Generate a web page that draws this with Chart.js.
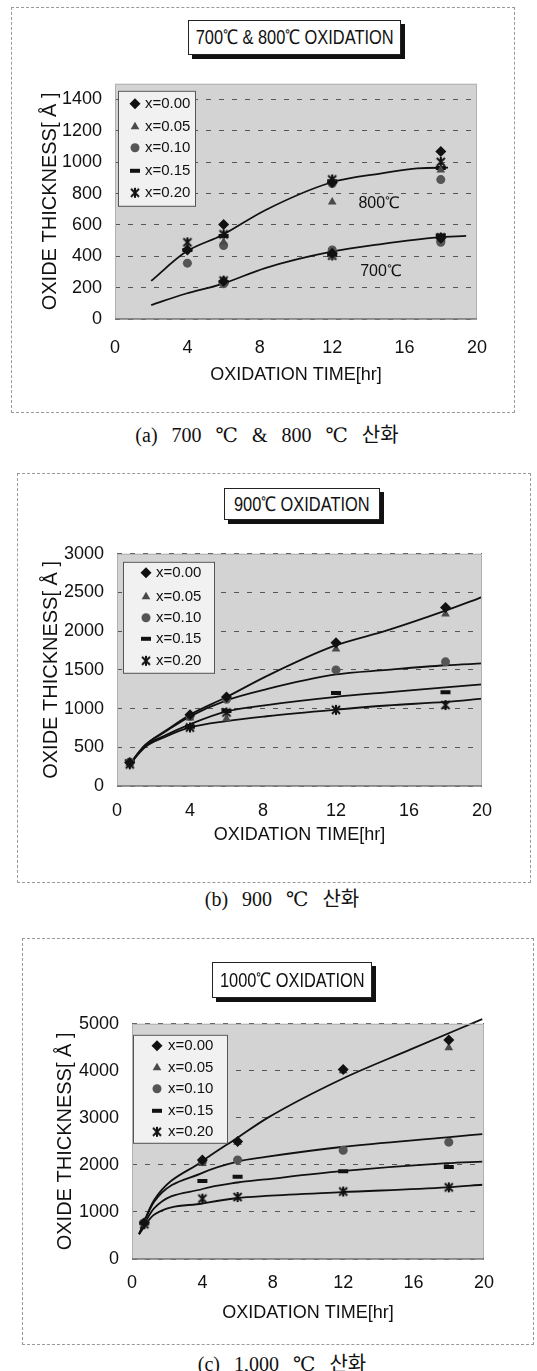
<!DOCTYPE html>
<html lang="ko">
<head>
<meta charset="utf-8">
<title>Oxide thickness vs oxidation time</title>
<script src="https://cdn.jsdelivr.net/npm/chart.js@4.4.1/dist/chart.umd.min.js"></script>
<style>
  html, body { margin: 0; padding: 0; background: #fff; }
  body { position: relative; width: 537px; height: 1371px; overflow: hidden; }
  .frame { position: absolute; border: 1px dashed #9a9a9a; box-sizing: border-box; }
  canvas { position: absolute; left: 0; z-index: 1; }
  .ttl {
    position: absolute; z-index: 2; background: #fff; border: 1px solid #222;
    box-shadow: 4px 4px 0 #111; box-sizing: border-box; color: #111;
    display: flex; align-items: center; justify-content: center; white-space: nowrap;
  }
  .ttl span {
    display: inline-block; font: 20px 'Liberation Sans', Arial, sans-serif;
    transform: scaleX(0.82); transform-origin: center;
  }
  .cap {
    position: absolute; width: 400px; text-align: center; color: #111; line-height: 24px;
    font: 20px 'Liberation Serif', 'DejaVu Serif', 'Noto Sans CJK KR', serif; word-spacing: 9px;
    white-space: nowrap;
  }
</style>
</head>
<body>
<div class="frame" style="left:11px;top:7px;width:504px;height:406px"></div>
<div class="frame" style="left:17px;top:473px;width:514px;height:410px"></div>
<div class="frame" style="left:22px;top:938px;width:512px;height:407px"></div>

<div class="ttl" style="left:188px;top:20px;width:213px;height:35px"><span>700℃ &amp; 800℃ OXIDATION</span></div>
<div class="ttl" style="left:224px;top:488px;width:156px;height:32px"><span>900℃ OXIDATION</span></div>
<div class="ttl" style="left:212px;top:962px;width:160px;height:36px"><span>1000℃ OXIDATION</span></div>

<canvas id="chartA" width="537" height="340" style="top:60px"></canvas>
<canvas id="chartB" width="537" height="330" style="top:530px"></canvas>
<canvas id="chartC" width="537" height="330" style="top:1000px"></canvas>

<div class="cap" style="left:67px;top:419px">(a) 700 ℃ &amp; 800 ℃ 산화</div>
<div class="cap" style="left:82px;top:883px">(b) 900 ℃ 산화</div>
<div class="cap" style="left:82px;top:1348px">(c) 1,000 ℃ 산화</div>

<script>
const seriesLabels = ['x=0.00', 'x=0.05', 'x=0.10', 'x=0.15', 'x=0.20'];
const xTicks = [0, 4, 8, 12, 16, 20];

// (a) 700 / 800 C
const yTicksA = [0, 200, 400, 600, 800, 1000, 1200, 1400];
const hoursA = [4, 6, 12, 18];
const a800 = [
    [440, 602, 871, 1068],
    [448, 489, 746, 951],
    [356, 469, 864, 889],
    [440, 530, 879, 963],
    [489, 540, 890, 1002]
];
const a700 = [
    [null, 240, 420, 515],
    [null, 230, 395, 510],
    [null, 225, 440, 489],
    [null, 235, 410, 532],
    [null, 245, 405, 520]
];
const fitHoursA800 = [2, 3.9, 5.9, 8.3, 11.9, 14.8, 16.7, 18.4];
const fitA800 = [243, 427, 534, 694, 869, 930, 961, 965];
const fitHoursA700 = [2, 3.9, 5.9, 8.3, 11.9, 14.8, 17.8, 19.4];
const fitA700 = [89, 161, 223, 325, 428, 479, 520, 530];

// (b) 900 C
const yTicksB = [0, 500, 1000, 1500, 2000, 2500, 3000];
const hoursB = [0.7, 4, 6, 12, 18];
const b900 = [
    [300, 921, 1150, 1852, 2306],
    [290, 880, 870, 1770, 2223],
    [310, 900, 1120, 1500, 1604],
    [320, 765, 970, 1203, 1211],
    [280, 756, 950, 984, 1046]
];
const fitHoursB = [0.6, 1.5, 2.7, 4, 6, 8.2, 11.9, 14.8, 18, 20];
const fitB = [
    [250, 520, 720, 921, 1149, 1420, 1810, 2010, 2265, 2440],
    [250, 515, 710, 900, 1107, 1252, 1438, 1500, 1560, 1583],
    [250, 505, 660, 797, 963, 1046, 1149, 1210, 1273, 1314],
    [250, 495, 640, 756, 839, 901, 984, 1040, 1087, 1128]
];

// (c) 1000 C
const yTicksC = [0, 1000, 2000, 3000, 4000, 5000];
const hoursC = [0.7, 4, 6, 12, 18];
const c1000 = [
    [768, 2106, 2500, 4027, 4658],
    [760, 2030, 2484, 4000, 4493],
    [770, 2070, 2106, 2311, 2484],
    [760, 1660, 1749, 1866, 1955],
    [740, 1283, 1317, 1434, 1523]
];
const fitHoursC0 = [0.4, 1.25, 4, 6, 7.7, 11.9, 15.8, 19.9];
const fitC0 = [529, 1249, 2080, 2580, 3000, 3822, 4450, 5100];
const fitHoursC = [0.4, 1.25, 4, 6, 7.6, 11.9, 17.9, 19.9];
const fitC = [
    [529, 1214, 1832, 2072, 2170, 2381, 2587, 2655],
    [529, 1076, 1488, 1626, 1694, 1866, 2037, 2072],
    [529, 941, 1180, 1297, 1340, 1420, 1523, 1578]
];

const SANS = "'Liberation Sans', Arial, sans-serif";

// excel-like asterisk marker
function asterisk(size, color) {
    const c = document.createElement('canvas');
    c.width = c.height = size;
    const g = c.getContext('2d');
    const m = size / 2, r = size / 2 - 1, d = r * 0.8;
    g.strokeStyle = color;
    g.lineWidth = 2;
    g.beginPath();
    g.moveTo(m, m - r); g.lineTo(m, m + r);
    g.moveTo(m - d, m - d); g.lineTo(m + d, m + d);
    g.moveTo(m + d, m - d); g.lineTo(m - d, m + d);
    g.stroke();
    return c;
}

const markers = [
    { pointStyle: 'rectRot', radius: 5.5, bg: '#111', border: '#111', bw: 0 },
    { pointStyle: 'triangle', radius: 5, bg: '#4a4a4a', border: '#4a4a4a', bw: 0 },
    { pointStyle: 'circle', radius: 4.5, bg: '#555', border: '#555', bw: 0 },
    { pointStyle: 'line', radius: 5, bg: '#111', border: '#111', bw: 4 },
    { pointStyle: asterisk(12, '#111'), radius: 6, bg: '#111', border: '#111', bw: 0 }
];

function pointSets(groups) {
    return seriesLabels.map((label, k) => {
        const data = [];
        groups.forEach(g => g.hours.forEach((h, i) => {
            const v = g.values[k][i];
            if (v != null) data.push({ x: h, y: v });
        }));
        const m = markers[k];
        return {
            label, data, showLine: false, order: 1,
            pointStyle: m.pointStyle, pointRadius: m.radius,
            pointBackgroundColor: m.bg, pointBorderColor: m.border, pointBorderWidth: m.bw
        };
    });
}

function curve(hours, values) {
    return {
        label: '', data: hours.map((h, i) => ({ x: h, y: values[i] })),
        showLine: true, pointRadius: 0, borderColor: '#111', borderWidth: 1.8,
        cubicInterpolationMode: 'monotone', fill: false, order: 2, clip: 10
    };
}

const panelPlugin = {
    id: 'panel',
    beforeDraw(chart) {
        const { ctx, chartArea: a } = chart;
        ctx.save();
        ctx.fillStyle = '#d3d3d3';
        ctx.fillRect(a.left, a.top, a.right - a.left, a.bottom - a.top);
        ctx.restore();
    },
    afterDatasetsDraw(chart, args, opts) {
        const { ctx, chartArea: a, scales } = chart;
        ctx.save();
        ctx.strokeStyle = '#b0b0b0';
        ctx.lineWidth = 1;
        ctx.strokeRect(a.left + 0.5, a.top + 0.5, a.right - a.left - 1, a.bottom - a.top - 1);
        ctx.strokeStyle = '#7a7a7a';
        ctx.lineWidth = 1.5;
        ctx.beginPath();
        ctx.moveTo(a.left, a.bottom);
        ctx.lineTo(a.right, a.bottom);
        ctx.stroke();

        ctx.fillStyle = '#111';
        ctx.font = '16px ' + SANS;
        ctx.textAlign = 'center';
        ctx.textBaseline = 'middle';
        (opts.notes || []).forEach(n => {
            ctx.fillText(n.text, scales.x.getPixelForValue(n.x), scales.y.getPixelForValue(n.y));
        });

        const L = opts.legend;
        if (L) {
            const x0 = a.left + L.x, y0 = a.top + L.y;
            ctx.fillStyle = '#f1f1f1';
            ctx.fillRect(x0, y0, L.w, L.h);
            ctx.strokeStyle = '#555';
            ctx.lineWidth = 1;
            ctx.strokeRect(x0 + 0.5, y0 + 0.5, L.w, L.h);
            seriesLabels.forEach((label, k) => {
                const m = markers[k];
                const cy = a.top + L.rows[k];
                ctx.fillStyle = m.bg;
                ctx.strokeStyle = m.border;
                ctx.lineWidth = m.bw;
                Chart.helpers.drawPoint(ctx, { pointStyle: m.pointStyle, radius: m.radius, rotation: 0, borderWidth: m.bw }, a.left + L.markX, cy);
                ctx.fillStyle = '#111';
                ctx.font = '15px ' + SANS;
                ctx.textAlign = 'left';
                ctx.textBaseline = 'middle';
                ctx.fillText(label, a.left + L.textX, cy);
            });
        }
        ctx.restore();
    }
};

function makeChart(id, cfg) {
    return new Chart(document.getElementById(id), {
        type: 'scatter',
        data: { datasets: cfg.datasets },
        plugins: [panelPlugin],
        options: {
            responsive: false,
            animation: false,
            devicePixelRatio: 1,
            layout: { padding: { top: cfg.top, right: cfg.right, left: 0, bottom: 0 } },
            plugins: {
                legend: { display: false },
                tooltip: { enabled: false },
                panel: { legend: cfg.legend, notes: cfg.notes || [] }
            },
            scales: {
                x: {
                    type: 'linear', min: 0, max: 20,
                    afterBuildTicks: s => { s.ticks = xTicks.map(v => ({ value: v })); },
                    afterFit: s => { s.height = cfg.xHeight; },
                    ticks: { color: '#111', font: { family: SANS, size: 18 }, padding: cfg.xPad, maxRotation: 0, autoSkip: false, callback: v => String(v) },
                    grid: { display: false, drawTicks: false },
                    border: { display: false },
                    title: {
                        display: true, text: 'OXIDATION TIME[hr]', color: '#111',
                        font: { family: SANS, size: 18 }, padding: { top: 0, bottom: cfg.xTitlePad }
                    }
                },
                y: {
                    type: 'linear', min: 0, max: cfg.yMax,
                    afterBuildTicks: s => { s.ticks = cfg.yTicks.map(v => ({ value: v })); },
                    afterFit: s => { s.width = cfg.yWidth; },
                    ticks: { color: '#111', font: { family: SANS, size: 18 }, padding: 13, callback: v => String(v) },
                    grid: { color: '#555', lineWidth: 1, drawTicks: false },
                    border: { display: false, dash: [5, 8] },
                    title: {
                        display: true, text: 'OXIDE THICKNESS[ Å ]', color: '#111',
                        font: { family: SANS, size: 20 }, padding: { top: cfg.yTitlePad, bottom: 0 }
                    }
                }
            }
        }
    });
}

makeChart('chartA', {
    datasets: [
        ...pointSets([{ hours: hoursA, values: a800 }, { hours: hoursA, values: a700 }]),
        curve(fitHoursA800, fitA800),
        curve(fitHoursA700, fitA700)
    ],
    yMax: 1500, yTicks: yTicksA,
    top: 15, right: 60, yWidth: 115, xHeight: 81, xPad: 18, xTitlePad: 14, yTitlePad: 38,
    legend: { x: 3, y: 7, w: 77, h: 115, markX: 20, textX: 30, rows: [20, 43, 64, 87, 109] },
    notes: [{ x: 14.6, y: 735, text: '800℃' }, { x: 14.7, y: 305, text: '700℃' }]
});

makeChart('chartB', {
    datasets: [
        ...pointSets([{ hours: hoursB, values: b900 }]),
        ...fitB.map(v => curve(fitHoursB, v))
    ],
    yMax: 3000, yTicks: yTicksB,
    top: 14, right: 55, yWidth: 117, xHeight: 74, xPad: 14, xTitlePad: 14, yTitlePad: 39,
    legend: { x: 6, y: 8, w: 91, h: 111, markX: 29, textX: 39, rows: [19, 43, 64, 85, 107] }
});

makeChart('chartC', {
    datasets: [
        ...pointSets([{ hours: hoursC, values: c1000 }]),
        curve(fitHoursC0, fitC0),
        ...fitC.map(v => curve(fitHoursC, v))
    ],
    yMax: 5000, yTicks: yTicksC,
    top: 16, right: 53, yWidth: 132, xHeight: 71, xPad: 13, xTitlePad: 6, yTitlePad: 53,
    legend: { x: 1, y: 11, w: 94, h: 108, markX: 25, textX: 36, rows: [22, 44, 65, 87, 108] }
});
</script>
</body>
</html>
